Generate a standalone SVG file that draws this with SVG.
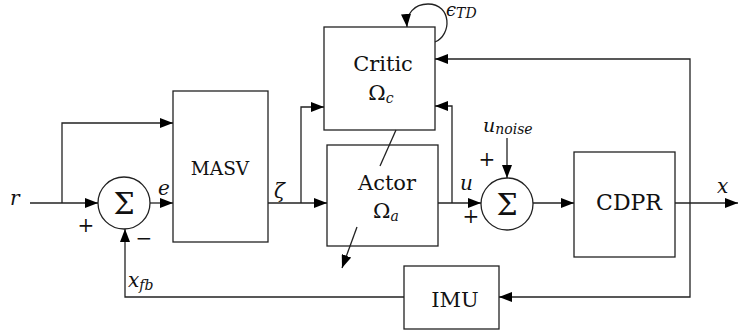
<svg xmlns="http://www.w3.org/2000/svg" width="738" height="333" viewBox="0 0 738 333">
<defs>
<marker id="ah" markerUnits="userSpaceOnUse" markerWidth="13" markerHeight="10" refX="13" refY="5" orient="auto">
<path d="M0,0 L13,5 L0,10 z" fill="#000"/>
</marker>
<style>
.box{fill:#fff;stroke:#222;stroke-width:1.3}
.ln{fill:none;stroke:#222;stroke-width:1.3}
.ar{fill:none;stroke:#222;stroke-width:1.3;marker-end:url(#ah)}
text{font-family:'DejaVu Serif','Liberation Serif',serif;fill:#111}
.t{text-anchor:middle}
.m{font-style:italic}
</style>
</defs>
<g id="sum1">
<circle cx="124" cy="203" r="26" fill="#fff" stroke="#222" stroke-width="1.3"/>
<text class="t" x="124" y="214" font-size="30">Σ</text>
</g>
<g id="masv">
<rect class="box" x="173" y="91" width="95" height="151"/>
<text class="t" x="220" y="175" font-size="18.5">MASV</text>
</g>
<g id="critic">
<rect class="box" x="324" y="27" width="111" height="103"/>
<text class="t" x="383" y="71" font-size="21">Critic</text>
<text class="t" x="381" y="100" font-size="21">Ω<tspan class="m" font-size="14" dy="3">c</tspan></text>
</g>
<g id="actor">
<rect class="box" x="327" y="145" width="111" height="101"/>
<text class="t" x="387" y="190" font-size="21">Actor</text>
<text class="t" x="386" y="218" font-size="21">Ω<tspan class="m" font-size="14" dy="3">a</tspan></text>
</g>
<g id="sum2">
<circle cx="507" cy="204" r="26" fill="#fff" stroke="#222" stroke-width="1.3"/>
<text class="t" x="507" y="215" font-size="30">Σ</text>
</g>
<g id="cdpr">
<rect class="box" x="574" y="152" width="101" height="105"/>
<text class="t" x="629" y="210" font-size="22">CDPR</text>
</g>
<g id="imu">
<rect class="box" x="404" y="266" width="95" height="63"/>
<text class="t" x="455" y="307" font-size="21">IMU</text>
</g>
<g id="connectors">
<path class="ar" d="M30,203 H98"/>
<path class="ar" d="M62,203 V123 H173"/>
<path class="ar" d="M150,203 H173"/>
<path class="ar" d="M268,203 H327"/>
<path class="ar" d="M301,203 V107 H324"/>
<path class="ar" d="M438,203 H481"/>
<path class="ar" d="M452,203 V106 H435"/>
<path class="ar" d="M507,138 V178"/>
<path class="ar" d="M533,203 H574"/>
<path class="ar" d="M675,203 H738"/>
<path class="ar" d="M690,203 V59 H435"/>
<path class="ar" d="M690,203 V297 H499"/>
<path class="ar" d="M404,297 H125 V229"/>
<path class="ar" d="M435,42 C452,35 452,4 428,4 C414,4 406,14 407,27"/>
<path class="ln" d="M396,130 L380,166"/>
<path class="ar" d="M357,227 L342,268"/>
</g>
<g id="labels">
<text class="m" x="10" y="205" font-size="20">r</text>
<text class="m" x="158" y="195" font-size="20">e</text>
<text class="m" x="274" y="198" font-size="20">ζ</text>
<text class="m" x="460" y="190" font-size="20">u</text>
<text class="m" x="717" y="193" font-size="20">x</text>
<text class="m" x="128" y="287" font-size="20">x<tspan font-size="14" dy="3">fb</tspan></text>
<text class="m" x="483" y="132" font-size="19">u<tspan font-size="14" dy="2">noise</tspan></text>
<text class="m" x="446" y="16" font-size="18">ϵ<tspan font-size="14" dy="2">TD</tspan></text>
<text class="t" x="86" y="232" font-size="20">+</text>
<text class="t" x="144" y="245" font-size="20">−</text>
<text class="t" x="487" y="166" font-size="20">+</text>
<text class="t" x="471" y="223" font-size="20">+</text>
</g>
</svg>
